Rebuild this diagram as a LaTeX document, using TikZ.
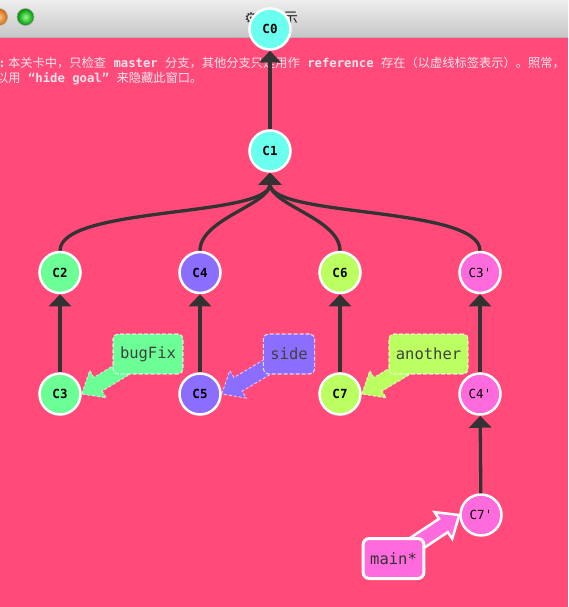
\documentclass[tikz,border=0pt]{standalone}
\usepackage{fontspec}
\newfontfamily\cjk{Noto Sans CJK SC}
\newfontfamily\mono{DejaVu Sans Mono}
\newfontfamily\djv{DejaVu Sans}
\usetikzlibrary{arrows.meta,calc}
\definecolor{bgpink}{RGB}{255,74,122}
\definecolor{ccyan}{RGB}{107,255,240}
\definecolor{cgreen}{RGB}{107,255,150}
\definecolor{cpurple}{RGB}{140,110,255}
\definecolor{clime}{RGB}{188,255,96}
\definecolor{cmag}{RGB}{255,107,220}
\definecolor{edgec}{RGB}{51,51,51}
\definecolor{txtc}{RGB}{246,228,236}
\pgfdeclarelayer{back}
\pgfdeclarelayer{front}
\pgfsetlayers{back,main,front}
% head length 19, head half width 16, shaft half width 8
\newcommand\brarrow[3]{%
  \path[#3] let \p1=(#1.center), \p2=(#2), \n1={atan2(\y1-\y2,\x1-\x2)} in
    (\p2) -- ($(\p2)+(\n1+40.1:24.8pt)$) -- ($(\p2)+(\n1+22.8:20.6pt)$)
    -- ($(\p1)+(\n1+90:8pt)$) -- ($(\p1)+(\n1-90:8pt)$)
    -- ($(\p2)+(\n1-22.8:20.6pt)$) -- ($(\p2)+(\n1-40.1:24.8pt)$) -- cycle;}
\begin{document}
\begin{tikzpicture}[x=1pt,y=-1pt,
  commit/.style={circle, draw=white, line width=2.5pt, minimum size=41pt, inner sep=0pt,
    font=\mono\bfseries\fontsize{12.5}{14}\selectfont, text=black},
  commitp/.style={commit, font=\mono\fontsize{12.5}{14}\selectfont},
  edge/.style={draw=edgec, line width=3.3pt, -{Triangle[width=22pt,length=12pt]}},
  brlabel/.style={rounded corners=5pt, draw=white, draw opacity=0.75, line width=1.1pt,
    dash pattern=on 4pt off 2pt, minimum height=40pt, inner xsep=7pt, inner ysep=0pt,
    font=\mono\fontsize{15.5}{17}\selectfont, text=black!75},
  mainlabel/.style={rounded corners=6pt, draw=white, line width=3pt, fill=cmag,
    minimum height=40pt, inner xsep=7pt, inner ysep=0pt,
    font=\mono\fontsize{15.5}{17}\selectfont, text=black!80},
  brarrowst/.style={draw=white, draw opacity=0.6, line width=1pt, dash pattern=on 3pt off 2pt},
  infotext/.style={anchor=base west, inner sep=0pt, text=txtc, font=\fontsize{12.25}{14}\selectfont}
]
\useasboundingbox (0,0) rectangle (568,607);
\begin{pgfonlayer}{back}
  \fill[bgpink] (0,0) rectangle (568,607);
  \shade[top color=black!7, bottom color=black!22] (0,0) rectangle (568,37);
  \draw[black!30, line width=0.8pt] (0,37) -- (568,37);
  \shade[inner color=orange!45!white, outer color=orange!80!black] (-1,17) circle (8.5);
  \draw[black!35, line width=0.6pt] (-1,17) circle (8.5);
  \shade[inner color=green!45!white, outer color=green!55!black] (25.5,17) circle (8.5);
  \draw[black!35, line width=0.6pt] (25.5,17) circle (8.5);
  \node[inner sep=0pt, text=black!80, font=\djv\fontsize{15}{17}\selectfont] (gear) at (251,18) {⚙};
  \node[inner sep=0pt, text=black!85, font=\cjk\fontsize{15}{17}\selectfont] (ttl) at (290.5,18) {示};
  \node[infotext] (line1) at (-1.8,67.5) {{\mono\bfseries :}\kern2.4pt{\cjk 本关卡中，只检查}{\mono\bfseries\ master\ }{\cjk 分支，其他分支只是用作}{\mono\bfseries\ reference\ }{\cjk 存在（以虚线标签表示）。照常，}};
  \node[infotext] (line2) at (-4,82.5) {{\cjk 以用}{\mono\bfseries\ “hide goal”\ }{\cjk 来隐藏此窗口。}};
\end{pgfonlayer}

\node[commit, fill=ccyan] (C0) at (270,29) {C0};
\node[commit, fill=ccyan] (C1) at (270,151) {C1};
\node[commit, fill=cgreen] (C2) at (60,272.5) {C2};
\node[commit, fill=cpurple] (C4) at (200,272.5) {C4};
\node[commit, fill=clime] (C6) at (340,272.5) {C6};
\node[commitp, fill=cmag] (C3p) at (480,272.5) {C3'};
\node[commit, fill=cgreen] (C3) at (60,394) {C3};
\node[commit, fill=cpurple] (C5) at (200,394) {C5};
\node[commit, fill=clime] (C7) at (340,394) {C7};
\node[commitp, fill=cmag] (C4p) at (480,394) {C4'};
\node[commitp, fill=cmag] (C7p) at (481,515) {C7'};

\draw[edge] (C1) -- (C0);
\draw[edge] (C2.north) .. controls +(0,-45) and +(0,45) .. (C1.south);
\draw[edge] (C4.north) .. controls +(0,-32) and +(0,32) .. (C1.south);
\draw[edge] (C6.north) .. controls +(0,-32) and +(0,32) .. (C1.south);
\draw[edge] (C3p.north) .. controls +(0,-45) and +(0,45) .. (C1.south);
\draw[edge] (C3) -- (C2);
\draw[edge] (C5) -- (C4);
\draw[edge] (C7) -- (C6);
\draw[edge] (C4p) -- (C3p);
\draw[edge] (C7p) -- (C4p);

\begin{pgfonlayer}{front}
  \node[brlabel, fill=cgreen] (bugFix) at (148,354) {bugFix};
  \node[brlabel, fill=cpurple] (side) at (289,354) {side};
  \node[brlabel, fill=clime] (another) at (428.5,354) {another};
  \node[mainlabel] (main) at (393.5,558.5) {main*};
\end{pgfonlayer}

\brarrow{bugFix}{C3.east}{fill=cgreen, brarrowst}
\brarrow{side}{C5.east}{fill=cpurple, brarrowst}
\brarrow{another}{C7.east}{fill=clime, brarrowst}
\brarrow{main}{C7p.west}{fill=cmag, draw=white, line width=2.5pt, line join=miter}
\end{tikzpicture}
\end{document}
